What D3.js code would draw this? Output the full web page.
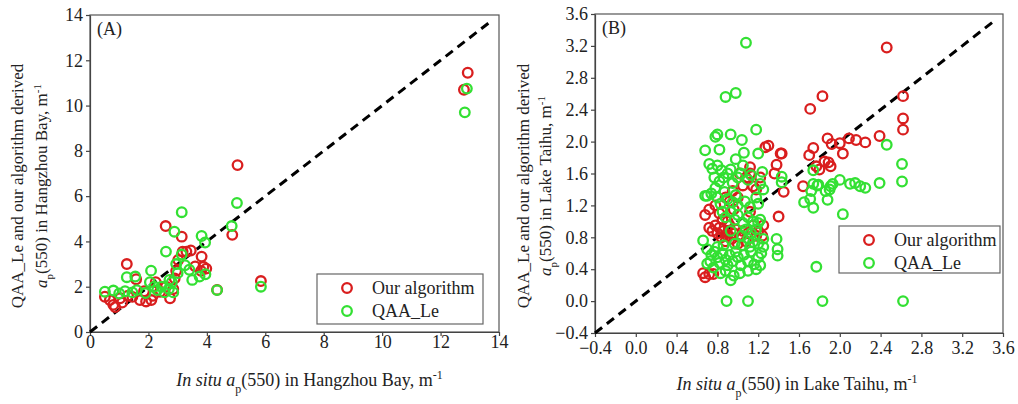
<!DOCTYPE html>
<html>
<head>
  <meta charset="utf-8">
  <script src="https://d3js.org/d3.v7.min.js"></script>
  <style>
    body { margin: 0; background: #fff; }
    svg { font-family: 'Liberation Serif', 'Times New Roman', serif; }
    .axis path, .axis line { stroke: #444; stroke-width: 1.2; }
  </style>
</head>
<body>
<script>
// Panel A: Hangzhou Bay  [in situ, derived]
var hzOurs = [[0.51,1.56],[0.68,1.41],[0.8,1.2],[0.86,1.1],[1.03,1.49],[1.1,1.3],[1.26,3.0],[1.3,1.6],
  [1.45,1.55],[1.58,2.33],[1.71,1.41],[1.85,1.8],[1.92,1.35],[2.1,1.41],[2.15,1.6],[2.25,2.2],[2.4,1.78],
  [2.59,4.68],[2.6,2.0],[2.74,1.49],[2.85,1.9],[2.9,2.37],[2.95,2.7],[3.02,3.18],[3.14,4.21],[3.17,3.55],
  [3.3,3.55],[3.45,3.6],[3.6,2.9],[3.8,2.7],[3.82,3.33],[3.88,2.88],[3.98,2.8],[4.35,1.86],[4.87,4.29],
  [5.05,7.37],[5.85,2.25],[12.8,10.7],[12.93,11.45]];
var hzQaa = [[0.51,1.78],[0.8,1.83],[1.0,1.7],[1.26,2.42],[1.2,1.8],[1.45,1.75],[1.55,2.45],[1.6,1.85],
  [1.9,1.72],[2.09,2.71],[2.05,2.2],[2.2,2.0],[2.3,1.85],[2.45,2.0],[2.55,1.75],[2.6,3.55],[2.7,1.9],
  [2.72,2.3],[2.8,2.2],[2.85,1.75],[2.89,4.43],[2.95,3.0],[3.0,2.6],[3.14,5.29],[3.14,3.42],[3.25,2.95],
  [3.4,2.75],[3.5,2.3],[3.75,2.45],[3.82,4.24],[3.94,3.95],[3.95,2.55],[4.35,1.85],[4.85,4.68],[5.03,5.7],
  [5.85,2.0],[12.83,9.7],[12.9,10.75]];

// Panel B: Lake Taihu
var thOurs = [[0.66,0.35],[0.68,0.3],[0.72,0.34],[0.76,0.34],[0.68,1.08],[0.72,0.92],[0.75,0.88],[0.78,0.95],
  [0.8,0.85],[0.82,0.92],[0.84,0.8],[0.86,0.88],[0.88,0.75],[0.9,0.82],[0.92,0.95],[0.94,0.78],[0.96,0.85],
  [0.98,0.9],[1.0,0.72],[1.02,0.8],[1.05,0.88],[1.08,0.75],[1.1,0.85],[1.12,1.12],[1.15,0.95],[1.18,0.82],
  [1.2,0.88],[1.24,0.82],[1.25,0.95],[0.78,1.2],[0.82,1.1],[0.88,1.3],[0.92,1.25],[0.95,1.38],[1.0,1.3],
  [1.05,1.45],[1.08,1.55],[1.12,1.6],[1.12,1.68],[1.15,1.44],[1.18,1.4],[1.22,1.55],[1.27,1.93],[1.3,1.95],
  [1.36,1.6],[1.38,1.71],[1.4,1.06],[1.43,1.85],[1.45,1.37],[0.9,1.0],[0.96,1.15],[1.02,1.6],[0.85,1.02],
  [0.72,1.15],[1.64,1.44],[1.7,1.83],[1.71,2.41],[1.74,1.92],[1.77,1.69],[1.8,1.65],[1.83,2.57],[1.85,1.75],
  [1.88,2.04],[1.89,1.74],[1.91,1.69],[1.92,1.97],[2.0,1.98],[2.03,1.85],[2.09,2.04],[2.16,2.02],[2.25,1.99],
  [2.39,2.07],[2.46,3.18],[2.62,2.57],[2.62,2.29],[2.62,2.15],[1.42,1.85]];
var thQaa = [[1.08,3.24],[0.88,2.56],[0.98,2.61],[1.18,2.15],[0.78,2.06],[0.8,2.09],[0.93,2.09],[1.04,2.02],
  [0.68,1.89],[0.82,1.9],[1.2,1.85],[1.06,1.86],[0.98,1.78],[2.46,1.96],[2.61,1.72],[2.61,1.5],[2.39,1.48],
  [2.25,1.42],[2.2,1.44],[2.15,1.48],[2.1,1.47],[2.0,1.52],[1.93,1.47],[1.9,1.4],[1.88,1.27],[1.78,1.45],
  [1.72,1.38],[1.74,1.47],[1.71,1.28],[1.74,1.17],[1.65,1.24],[1.74,1.64],[2.03,1.09],[1.77,0.43],
  [0.89,0.0],[1.1,0.0],[1.83,0.0],[2.62,0.0],[1.38,0.78],[1.39,0.65],[1.39,0.57],[1.43,1.56],[1.43,1.49],
  [0.72,1.72],[0.75,1.66],[0.8,1.7],[0.84,1.64],[0.86,1.55],[0.9,1.6],[0.93,1.65],[0.95,1.48],[1.0,1.55],
  [1.03,1.6],[1.05,1.7],[1.1,1.52],[1.13,1.58],[1.24,1.62],[1.22,1.47],[1.25,1.4],[0.7,1.32],[0.74,1.35],
  [0.78,1.42],[0.8,1.3],[0.83,1.22],[0.87,1.37],[0.9,1.28],[0.95,1.24],[0.98,1.33],[1.0,1.2],[1.07,1.25],
  [1.12,1.18],[1.18,1.3],[1.2,1.22],[0.77,1.55],[0.82,1.5],[0.85,1.12],[0.88,1.05],[0.93,1.12],[0.97,1.02],
  [1.0,1.08],[1.05,0.98],[1.1,1.05],[1.15,1.0],[1.2,0.98],[1.22,1.02],[1.08,0.9],[1.13,0.85],[1.18,0.9],
  [1.04,0.82],[1.1,0.78],[0.93,0.88],[0.66,0.76],[0.7,0.65],[0.74,0.58],[0.77,0.62],[0.8,0.55],[0.82,0.48],
  [0.85,0.6],[0.88,0.52],[0.9,0.45],[0.92,0.58],[0.95,0.5],[0.98,0.62],[1.0,0.55],[1.03,0.45],[1.06,0.58],
  [1.1,0.5],[1.13,0.62],[1.16,0.46],[1.2,0.55],[1.23,0.6],[1.25,0.68],[1.22,0.45],[1.18,0.4],[1.1,0.38],
  [1.02,0.35],[0.96,0.32],[0.93,0.26],[0.88,0.38],[0.83,0.35],[0.76,0.42],[0.7,0.47],[0.73,0.5],[0.8,0.68],
  [0.86,0.7],[0.97,0.72],[1.04,0.7],[1.12,0.68],[1.15,0.74],[1.2,0.72],[1.25,0.78],[0.68,1.32],
  [1.79,1.46],[1.86,1.38],[1.91,1.44]];

var hzTicks = [0, 2, 4, 6, 8, 10, 12, 14];
var thTicks = [-0.4, 0.0, 0.4, 0.8, 1.2, 1.6, 2.0, 2.4, 2.8, 3.2, 3.6];
var seriesNames = ["Our algorithm", "QAA_Le"];
var colors = ["#d91e1e", "#33e033"];

var svg = d3.select("body").append("svg").attr("width", 1018).attr("height", 404);

function panel(opt) {
  var x = d3.scaleLinear().domain(opt.domain).range([opt.left, opt.right]);
  var y = d3.scaleLinear().domain(opt.domain).range([opt.bottom, opt.top]);
  var g = svg.append("g");

  // frame
  g.append("rect").attr("x", opt.left).attr("y", opt.top)
    .attr("width", opt.right - opt.left).attr("height", opt.bottom - opt.top)
    .attr("fill", "none").attr("stroke", "#555").attr("stroke-width", 1.2);

  var xa = g.append("g").attr("class", "axis").attr("transform", "translate(0," + opt.bottom + ")")
    .call(d3.axisBottom(x).tickValues(opt.ticks).tickFormat(opt.fmt).tickSize(4).tickSizeOuter(0).tickPadding(opt.xpad));
  var ya = g.append("g").attr("class", "axis").attr("transform", "translate(" + opt.left + ",0)")
    .call(d3.axisLeft(y).tickValues(opt.ticks).tickFormat(opt.fmt).tickSize(4).tickSizeOuter(0).tickPadding(3));
  [xa, ya].forEach(function (a) {
    a.attr("font-family", null).attr("font-size", null);
    a.selectAll("text").attr("font-size", 18).attr("fill", "#222")
      .attr("font-family", "'Liberation Serif', serif");
  });

  // 1:1 line
  g.append("line")
    .attr("x1", x(opt.domain[0])).attr("y1", y(opt.domain[0]))
    .attr("x2", x(opt.lineEnd)).attr("y2", y(opt.lineEnd))
    .attr("stroke", "#000").attr("stroke-width", 3).attr("stroke-dasharray", "9,6");

  [opt.ours, opt.qaa].forEach(function (data, i) {
    g.append("g").selectAll("circle").data(data).enter().append("circle")
      .attr("cx", function (d) { return x(d[0]); })
      .attr("cy", function (d) { return y(d[1]); })
      .attr("r", 4.8).attr("fill", "none")
      .attr("stroke", colors[i]).attr("stroke-width", 2.3);
  });

  g.append("text").attr("x", opt.left + 7).attr("y", opt.top + 20)
    .attr("font-size", 18).attr("fill", "#222").text(opt.label);

  // legend
  var lg = g.append("g").attr("transform", "translate(" + opt.leg[0] + "," + opt.leg[1] + ")");
  lg.append("rect").attr("width", opt.leg[2]).attr("height", opt.leg[3])
    .attr("fill", "#fff").attr("stroke", "#666").attr("stroke-width", 1.2);
  seriesNames.forEach(function (n, i) {
    lg.append("circle").attr("cx", 30).attr("cy", 14 + i * 23).attr("r", 4.8)
      .attr("fill", "none").attr("stroke", colors[i]).attr("stroke-width", 2.3);
    lg.append("text").attr("x", 55).attr("y", 20 + i * 23).attr("font-size", 18)
      .attr("fill", "#222").text(n);
  });

  // x title
  var xt = g.append("text").attr("x", (opt.left + opt.right) / 2 + opt.xtShift).attr("y", opt.xtY)
    .attr("text-anchor", "middle").attr("font-size", 18).attr("fill", "#222");
  xt.append("tspan").attr("font-style", "italic").text("In situ a");
  xt.append("tspan").attr("baseline-shift", "sub").attr("font-size", 12).text("p");
  xt.append("tspan").text("(550) in " + opt.place + ", m");
  xt.append("tspan").attr("baseline-shift", "super").attr("font-size", 12).text("-1");

  // y title (two lines)
  g.append("text").attr("transform", "translate(" + opt.yt[0] + "," + opt.yt[2] + ") rotate(-90)")
    .attr("text-anchor", "middle").attr("font-size", 17).attr("fill", "#222")
    .text("QAA_Le and our algorithm derived");
  var yt2 = g.append("text").attr("transform", "translate(" + opt.yt[1] + "," + opt.yt[2] + ") rotate(-90)")
    .attr("text-anchor", "middle").attr("font-size", 17).attr("fill", "#222");
  yt2.append("tspan").attr("font-style", "italic").text("a");
  yt2.append("tspan").attr("baseline-shift", "sub").attr("font-size", 11).text("p");
  yt2.append("tspan").text("(550) in " + opt.place + ", m");
  yt2.append("tspan").attr("baseline-shift", "super").attr("font-size", 11).text("-1");
}

panel({
  domain: [0, 14], left: 90, right: 499, top: 15, bottom: 332, ticks: hzTicks,
  fmt: d3.format("d"), lineEnd: 13.75, ours: hzOurs, qaa: hzQaa, label: "(A)", xpad: -0.5,
  leg: [317, 274, 166, 50], place: "Hangzhou Bay", xtShift: 15, xtY: 386, yt: [23, 47, 186]
});
panel({
  domain: [-0.4, 3.6], left: 595, right: 1003, top: 14, bottom: 333, ticks: thTicks,
  fmt: d3.format(".1f"), lineEnd: 3.52, ours: thOurs, qaa: thQaa, label: "(B)", xpad: 4,
  leg: [839, 226, 161, 47], place: "Lake Taihu", xtShift: -2, xtY: 390, yt: [529, 551, 186]
});
</script>
</body>
</html>
